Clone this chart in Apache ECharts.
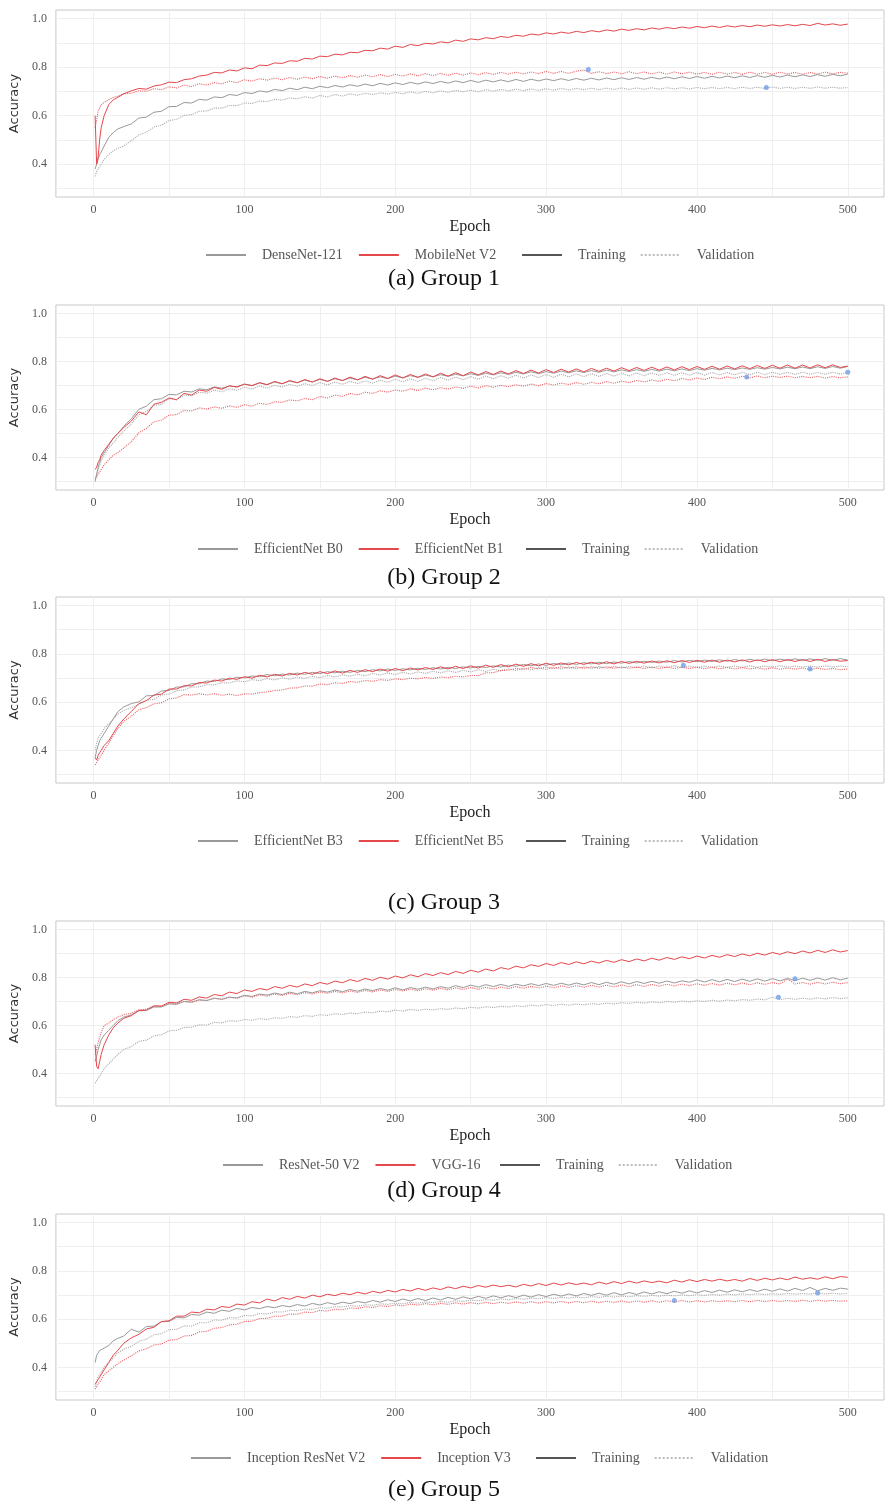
<!DOCTYPE html>
<html><head><meta charset="utf-8">
<script src="https://cdn.jsdelivr.net/npm/echarts@6/dist/echarts.min.js"></script>
<style>html,body{margin:0;padding:0;background:#fff}#c{width:888px;height:1504px}</style>
</head><body><div id="c"></div>
<script>
const EPOCHS = [1,2,3,4,5,7,10,13,16,20,
25,30,35,40,45,50,55,60,65,70,
75,80,85,90,95,100,105,110,115,120,
125,130,135,140,145,150,155,160,165,170,
175,180,185,190,195,200,205,210,215,220,
225,230,235,240,245,250,255,260,265,270,
275,280,285,290,295,300,305,310,315,320,
325,330,335,340,345,350,355,360,365,370,
375,380,385,390,395,400,405,410,415,420,
425,430,435,440,445,450,455,460,465,470,
475,480,485,490,495,500];

const X_LABELS = [0,100,200,300,400,500];
const Y_LABELS = [0.4,0.6,0.8,1.0];
const CAPTIONS = ['(a) Group 1','(b) Group 2','(c) Group 3','(d) Group 4','(e) Group 5'];
const MODELS = [['DenseNet-121','MobileNet V2'],['EfficientNet B0','EfficientNet B1'],['EfficientNet B3','EfficientNet B5'],['ResNet-50 V2','VGG-16'],['Inception ResNet V2','Inception V3']];

// ---- Group 1 ----
const g1_m1_train = [0.38,0.40,0.42,0.44,0.45,0.475,0.51,0.53,0.545,0.555,
0.566,0.590,0.594,0.614,0.618,0.637,0.638,0.654,0.652,0.667,
0.664,0.677,0.674,0.687,0.683,0.695,0.691,0.702,0.697,0.708,
0.703,0.713,0.707,0.717,0.711,0.721,0.715,0.724,0.718,0.727,
0.721,0.730,0.723,0.733,0.726,0.735,0.728,0.737,0.730,0.739,
0.732,0.741,0.734,0.743,0.736,0.745,0.737,0.746,0.739,0.747,
0.740,0.749,0.741,0.750,0.743,0.751,0.744,0.752,0.745,0.753,
0.746,0.754,0.747,0.755,0.748,0.756,0.749,0.757,0.750,0.758,
0.751,0.759,0.752,0.760,0.753,0.761,0.754,0.762,0.755,0.763,
0.756,0.764,0.757,0.765,0.758,0.766,0.759,0.767,0.760,0.768,
0.761,0.769,0.762,0.770,0.764,0.771];
const g1_m1_val = [0.35,0.37,0.38,0.39,0.40,0.42,0.44,0.455,0.465,0.475,
0.497,0.521,0.532,0.553,0.561,0.580,0.585,0.601,0.604,0.618,
0.619,0.631,0.631,0.642,0.641,0.652,0.650,0.660,0.658,0.667,
0.664,0.673,0.669,0.678,0.672,0.683,0.677,0.687,0.681,0.690,
0.684,0.692,0.687,0.694,0.689,0.696,0.690,0.698,0.692,0.700,
0.694,0.702,0.696,0.704,0.698,0.705,0.699,0.707,0.701,0.708,
0.702,0.709,0.703,0.710,0.704,0.711,0.705,0.712,0.706,0.712,
0.707,0.713,0.707,0.713,0.708,0.714,0.708,0.714,0.709,0.715,
0.709,0.715,0.710,0.715,0.710,0.716,0.711,0.716,0.711,0.716,
0.711,0.717,0.712,0.717,0.712,0.718,0.712,0.717,0.712,0.717,
0.712,0.718,0.713,0.717,0.713,0.716];
const g1_m2_train = [0.60,0.40,0.43,0.50,0.55,0.60,0.645,0.665,0.675,0.69,
0.702,0.712,0.709,0.722,0.727,0.738,0.736,0.748,0.752,0.763,
0.767,0.778,0.776,0.788,0.784,0.797,0.793,0.808,0.806,0.817,
0.815,0.826,0.824,0.836,0.833,0.845,0.843,0.853,0.850,0.861,
0.859,0.869,0.867,0.878,0.874,0.886,0.881,0.893,0.888,0.898,
0.895,0.904,0.900,0.911,0.906,0.916,0.912,0.921,0.917,0.926,
0.922,0.931,0.927,0.936,0.932,0.941,0.936,0.944,0.939,0.947,
0.942,0.950,0.945,0.953,0.948,0.956,0.951,0.958,0.953,0.961,
0.956,0.963,0.958,0.965,0.960,0.967,0.962,0.969,0.963,0.970,
0.965,0.971,0.966,0.973,0.968,0.974,0.969,0.975,0.970,0.976,
0.971,0.980,0.973,0.978,0.972,0.977];
const g1_m2_val = [0.55,0.58,0.62,0.63,0.645,0.655,0.665,0.675,0.68,0.69,
0.692,0.703,0.700,0.711,0.707,0.719,0.714,0.726,0.720,0.731,
0.726,0.736,0.731,0.742,0.736,0.748,0.742,0.752,0.746,0.755,
0.748,0.757,0.750,0.759,0.752,0.761,0.754,0.763,0.756,0.765,
0.758,0.767,0.760,0.769,0.761,0.770,0.763,0.772,0.764,0.773,
0.765,0.774,0.766,0.775,0.767,0.776,0.769,0.777,0.770,0.778,
0.771,0.779,0.772,0.780,0.773,0.782,0.774,0.782,0.774,0.783,
0.788,0.774,0.781,0.773,0.780,0.772,0.781,0.773,0.780,0.772,
0.779,0.771,0.780,0.772,0.779,0.771,0.778,0.770,0.779,0.771,
0.778,0.770,0.779,0.771,0.778,0.770,0.779,0.771,0.778,0.770,
0.778,0.771,0.779,0.772,0.778,0.775];
const g1_best = [[328,0.790],[446,0.716]];

// ---- Group 2 ----
const g2_m1_train = [0.30,0.33,0.36,0.38,0.40,0.42,0.45,0.48,0.50,0.53,
0.562,0.601,0.614,0.641,0.645,0.663,0.661,0.676,0.673,0.686,
0.682,0.694,0.689,0.697,0.695,0.705,0.700,0.710,0.704,0.714,
0.708,0.718,0.712,0.722,0.715,0.725,0.718,0.728,0.721,0.731,
0.724,0.734,0.727,0.736,0.729,0.739,0.732,0.741,0.734,0.743,
0.736,0.745,0.738,0.747,0.740,0.749,0.742,0.751,0.744,0.753,
0.746,0.755,0.748,0.757,0.749,0.758,0.751,0.760,0.753,0.761,
0.754,0.762,0.755,0.764,0.757,0.765,0.758,0.766,0.759,0.767,
0.760,0.768,0.761,0.769,0.762,0.770,0.764,0.771,0.765,0.772,
0.766,0.773,0.767,0.774,0.768,0.775,0.769,0.776,0.770,0.777,
0.770,0.778,0.771,0.779,0.772,0.779];
const g2_m1_val = [0.31,0.33,0.35,0.37,0.385,0.41,0.44,0.46,0.485,0.51,
0.540,0.578,0.592,0.616,0.622,0.645,0.641,0.660,0.657,0.672,
0.668,0.681,0.674,0.687,0.680,0.693,0.685,0.698,0.689,0.701,
0.694,0.705,0.697,0.708,0.700,0.712,0.702,0.714,0.705,0.717,
0.708,0.719,0.710,0.722,0.713,0.726,0.715,0.728,0.717,0.730,
0.720,0.733,0.722,0.735,0.724,0.737,0.726,0.739,0.728,0.741,
0.730,0.743,0.731,0.744,0.733,0.746,0.734,0.747,0.736,0.748,
0.737,0.749,0.738,0.750,0.739,0.751,0.740,0.752,0.741,0.752,
0.742,0.753,0.742,0.753,0.743,0.754,0.743,0.754,0.744,0.754,
0.744,0.755,0.745,0.755,0.745,0.755,0.746,0.755,0.746,0.755,
0.747,0.754,0.747,0.755,0.747,0.755];
const g2_m2_train = [0.35,0.36,0.38,0.39,0.41,0.43,0.455,0.48,0.50,0.525,
0.552,0.590,0.578,0.622,0.630,0.648,0.641,0.667,0.660,0.681,
0.676,0.692,0.684,0.699,0.693,0.706,0.699,0.712,0.703,0.717,
0.707,0.721,0.711,0.725,0.714,0.728,0.717,0.731,0.720,0.735,
0.723,0.738,0.726,0.741,0.729,0.744,0.731,0.746,0.734,0.748,
0.736,0.751,0.739,0.753,0.741,0.756,0.744,0.758,0.746,0.760,
0.748,0.762,0.750,0.764,0.752,0.766,0.754,0.768,0.756,0.769,
0.757,0.771,0.759,0.772,0.760,0.774,0.762,0.775,0.763,0.776,
0.764,0.777,0.765,0.778,0.766,0.779,0.767,0.780,0.768,0.781,
0.769,0.782,0.770,0.783,0.771,0.784,0.772,0.785,0.772,0.785,
0.773,0.786,0.774,0.786,0.775,0.781];
const g2_m2_val = [0.31,0.32,0.33,0.34,0.35,0.37,0.39,0.41,0.42,0.44,
0.466,0.503,0.521,0.549,0.556,0.576,0.579,0.596,0.594,0.607,
0.602,0.611,0.605,0.615,0.609,0.620,0.614,0.626,0.621,0.632,
0.630,0.640,0.636,0.646,0.641,0.654,0.648,0.660,0.655,0.667,
0.661,0.672,0.667,0.678,0.672,0.681,0.676,0.686,0.679,0.689,
0.682,0.691,0.685,0.694,0.688,0.697,0.690,0.699,0.693,0.701,
0.695,0.703,0.697,0.706,0.699,0.708,0.702,0.710,0.704,0.712,
0.705,0.713,0.707,0.716,0.709,0.718,0.712,0.721,0.715,0.723,
0.717,0.726,0.720,0.729,0.723,0.731,0.725,0.734,0.728,0.736,
0.730,0.738,0.731,0.740,0.732,0.739,0.733,0.739,0.732,0.738,
0.732,0.738,0.731,0.737,0.732,0.736];
const g2_best = [[433,0.735],[500,0.755]];

// ---- Group 3 ----
const g3_m1_train = [0.37,0.40,0.42,0.44,0.45,0.47,0.50,0.53,0.56,0.58,
0.594,0.601,0.626,0.627,0.646,0.648,0.662,0.663,0.676,0.676,
0.687,0.685,0.696,0.693,0.703,0.700,0.708,0.705,0.714,0.709,
0.716,0.712,0.720,0.715,0.723,0.718,0.726,0.721,0.728,0.723,
0.731,0.726,0.734,0.729,0.737,0.731,0.738,0.733,0.740,0.735,
0.742,0.737,0.744,0.739,0.746,0.741,0.748,0.743,0.750,0.745,
0.753,0.748,0.756,0.750,0.758,0.752,0.760,0.754,0.762,0.756,
0.763,0.758,0.765,0.759,0.766,0.761,0.768,0.762,0.769,0.764,
0.770,0.765,0.772,0.766,0.773,0.767,0.774,0.768,0.775,0.769,
0.776,0.770,0.777,0.771,0.778,0.771,0.778,0.772,0.779,0.772,
0.779,0.773,0.780,0.773,0.780,0.774];
const g3_m1_val = [0.40,0.43,0.45,0.46,0.47,0.49,0.51,0.53,0.55,0.565,
0.577,0.590,0.608,0.611,0.629,0.633,0.647,0.650,0.662,0.663,
0.672,0.671,0.680,0.679,0.688,0.684,0.693,0.689,0.697,0.692,
0.700,0.695,0.703,0.698,0.707,0.701,0.710,0.704,0.713,0.707,
0.715,0.709,0.718,0.712,0.721,0.714,0.723,0.716,0.725,0.719,
0.727,0.721,0.729,0.723,0.731,0.725,0.734,0.727,0.736,0.729,
0.738,0.731,0.740,0.733,0.742,0.735,0.744,0.737,0.745,0.738,
0.746,0.739,0.747,0.740,0.748,0.741,0.748,0.742,0.749,0.742,
0.749,0.743,0.751,0.743,0.749,0.744,0.749,0.744,0.749,0.744,
0.749,0.744,0.750,0.744,0.749,0.745,0.750,0.745,0.749,0.745,
0.749,0.745,0.750,0.745,0.749,0.746];
const g3_m2_train = [0.37,0.36,0.38,0.39,0.40,0.42,0.44,0.47,0.50,0.53,
0.561,0.594,0.606,0.629,0.633,0.654,0.654,0.668,0.667,0.681,
0.679,0.691,0.687,0.699,0.694,0.705,0.699,0.711,0.704,0.715,
0.708,0.719,0.712,0.723,0.715,0.726,0.718,0.729,0.720,0.731,
0.723,0.734,0.726,0.737,0.728,0.739,0.730,0.741,0.733,0.743,
0.735,0.746,0.737,0.748,0.739,0.750,0.741,0.753,0.744,0.755,
0.746,0.757,0.748,0.759,0.750,0.761,0.752,0.762,0.754,0.764,
0.756,0.765,0.757,0.767,0.758,0.768,0.760,0.769,0.761,0.770,
0.762,0.771,0.763,0.772,0.764,0.773,0.765,0.774,0.765,0.774,
0.766,0.775,0.766,0.775,0.767,0.776,0.767,0.776,0.768,0.776,
0.768,0.777,0.768,0.776,0.769,0.772];
const g3_m2_val = [0.34,0.35,0.36,0.37,0.38,0.40,0.43,0.46,0.49,0.52,
0.542,0.568,0.577,0.593,0.597,0.613,0.617,0.631,0.629,0.635,
0.629,0.635,0.628,0.633,0.627,0.634,0.633,0.639,0.642,0.648,
0.650,0.658,0.659,0.667,0.666,0.675,0.672,0.680,0.677,0.685,
0.682,0.689,0.686,0.693,0.690,0.696,0.693,0.699,0.696,0.702,
0.698,0.704,0.701,0.707,0.704,0.710,0.710,0.721,0.722,0.731,
0.732,0.739,0.736,0.743,0.738,0.745,0.739,0.746,0.740,0.746,
0.740,0.746,0.740,0.746,0.740,0.745,0.740,0.745,0.739,0.745,
0.739,0.745,0.739,0.744,0.739,0.744,0.738,0.744,0.738,0.743,
0.737,0.743,0.737,0.742,0.736,0.742,0.736,0.741,0.736,0.741,
0.735,0.740,0.735,0.739,0.734,0.737];
const g3_best = [[391,0.752],[475,0.737]];

// ---- Group 4 ----
const g4_m1_train = [0.45,0.47,0.50,0.52,0.54,0.56,0.58,0.60,0.62,0.635,
0.644,0.661,0.663,0.677,0.677,0.690,0.688,0.700,0.697,0.707,
0.704,0.714,0.709,0.718,0.715,0.726,0.721,0.731,0.727,0.735,
0.729,0.739,0.732,0.742,0.736,0.745,0.739,0.748,0.741,0.750,
0.743,0.752,0.745,0.754,0.747,0.757,0.748,0.758,0.751,0.760,
0.752,0.762,0.755,0.766,0.758,0.768,0.760,0.770,0.762,0.771,
0.763,0.772,0.765,0.774,0.766,0.775,0.767,0.776,0.768,0.777,
0.769,0.779,0.770,0.780,0.772,0.782,0.773,0.783,0.775,0.784,
0.776,0.785,0.777,0.786,0.780,0.790,0.781,0.791,0.782,0.792,
0.783,0.793,0.784,0.794,0.785,0.795,0.786,0.796,0.787,0.797,
0.788,0.798,0.789,0.799,0.790,0.797];
const g4_m1_val = [0.36,0.37,0.38,0.39,0.40,0.42,0.44,0.46,0.48,0.50,
0.512,0.534,0.539,0.557,0.562,0.578,0.580,0.592,0.593,0.603,
0.602,0.613,0.611,0.620,0.618,0.625,0.622,0.629,0.625,0.632,
0.630,0.637,0.634,0.641,0.638,0.645,0.642,0.649,0.646,0.652,
0.649,0.656,0.653,0.660,0.657,0.664,0.660,0.667,0.663,0.668,
0.665,0.670,0.667,0.673,0.670,0.676,0.672,0.678,0.675,0.680,
0.677,0.682,0.679,0.685,0.681,0.687,0.683,0.689,0.684,0.690,
0.686,0.691,0.688,0.693,0.690,0.695,0.692,0.697,0.693,0.698,
0.695,0.700,0.697,0.702,0.698,0.703,0.700,0.705,0.701,0.706,
0.703,0.708,0.705,0.710,0.707,0.718,0.708,0.713,0.709,0.714,
0.710,0.715,0.711,0.716,0.712,0.715];
const g4_m2_train = [0.52,0.43,0.42,0.45,0.48,0.52,0.56,0.59,0.61,0.63,
0.641,0.663,0.664,0.682,0.681,0.697,0.694,0.709,0.705,0.719,
0.714,0.729,0.724,0.739,0.733,0.748,0.742,0.754,0.748,0.762,
0.755,0.767,0.760,0.773,0.766,0.779,0.772,0.785,0.778,0.791,
0.783,0.796,0.788,0.801,0.793,0.806,0.798,0.811,0.803,0.816,
0.808,0.820,0.812,0.825,0.817,0.830,0.822,0.835,0.827,0.841,
0.834,0.847,0.840,0.853,0.846,0.858,0.850,0.862,0.854,0.865,
0.857,0.868,0.860,0.871,0.863,0.874,0.866,0.877,0.869,0.880,
0.872,0.883,0.875,0.886,0.878,0.889,0.881,0.892,0.884,0.895,
0.887,0.898,0.890,0.901,0.893,0.904,0.896,0.907,0.899,0.910,
0.902,0.913,0.904,0.915,0.906,0.912];
const g4_m2_val = [0.48,0.50,0.53,0.55,0.57,0.60,0.61,0.625,0.635,0.645,
0.651,0.665,0.668,0.679,0.680,0.692,0.690,0.700,0.697,0.706,
0.704,0.713,0.709,0.718,0.713,0.724,0.718,0.728,0.722,0.731,
0.725,0.734,0.728,0.737,0.731,0.740,0.734,0.742,0.736,0.744,
0.738,0.746,0.740,0.748,0.742,0.750,0.744,0.752,0.745,0.753,
0.747,0.755,0.748,0.757,0.750,0.758,0.751,0.759,0.752,0.760,
0.754,0.762,0.755,0.763,0.756,0.764,0.757,0.765,0.758,0.766,
0.759,0.767,0.760,0.768,0.761,0.769,0.762,0.770,0.763,0.771,
0.764,0.772,0.765,0.773,0.766,0.774,0.767,0.775,0.768,0.776,
0.769,0.777,0.770,0.778,0.771,0.779,0.772,0.794,0.773,0.779,
0.772,0.780,0.773,0.780,0.774,0.778];
const g4_best = [[465,0.795],[454,0.718]];

// ---- Group 5 ----
const g5_m1_train = [0.42,0.45,0.46,0.47,0.47,0.48,0.49,0.51,0.52,0.53,
0.558,0.546,0.569,0.571,0.589,0.590,0.607,0.605,0.619,0.616,
0.629,0.624,0.637,0.632,0.644,0.638,0.648,0.643,0.652,0.647,
0.656,0.651,0.660,0.654,0.665,0.658,0.668,0.661,0.670,0.664,
0.673,0.667,0.677,0.670,0.680,0.673,0.683,0.675,0.685,0.677,
0.687,0.679,0.690,0.682,0.692,0.684,0.694,0.686,0.696,0.688,
0.697,0.689,0.699,0.691,0.701,0.693,0.703,0.695,0.704,0.696,
0.706,0.698,0.707,0.699,0.709,0.700,0.710,0.702,0.712,0.704,
0.713,0.705,0.715,0.707,0.717,0.708,0.718,0.710,0.720,0.711,
0.721,0.713,0.722,0.714,0.724,0.715,0.725,0.716,0.727,0.718,
0.731,0.717,0.727,0.719,0.728,0.724];
const g5_m1_val = [0.32,0.34,0.36,0.37,0.38,0.40,0.42,0.44,0.46,0.475,
0.487,0.508,0.517,0.535,0.540,0.556,0.558,0.572,0.571,0.585,
0.585,0.596,0.595,0.606,0.604,0.615,0.613,0.623,0.621,0.630,
0.629,0.636,0.635,0.641,0.640,0.647,0.645,0.651,0.650,0.656,
0.653,0.659,0.657,0.663,0.661,0.666,0.663,0.669,0.666,0.671,
0.668,0.673,0.670,0.676,0.673,0.678,0.676,0.681,0.678,0.683,
0.680,0.685,0.682,0.687,0.684,0.689,0.686,0.690,0.687,0.692,
0.688,0.693,0.690,0.694,0.691,0.695,0.692,0.697,0.694,0.698,
0.695,0.699,0.696,0.700,0.697,0.701,0.698,0.702,0.699,0.703,
0.700,0.704,0.701,0.705,0.701,0.705,0.702,0.706,0.703,0.706,
0.703,0.708,0.704,0.707,0.704,0.706];
const g5_m2_train = [0.33,0.34,0.35,0.36,0.37,0.39,0.42,0.45,0.47,0.50,
0.522,0.537,0.559,0.566,0.590,0.593,0.612,0.612,0.629,0.626,
0.641,0.638,0.652,0.648,0.662,0.658,0.672,0.667,0.683,0.675,
0.689,0.682,0.694,0.687,0.699,0.692,0.703,0.697,0.707,0.701,
0.711,0.704,0.715,0.708,0.719,0.712,0.723,0.716,0.727,0.719,
0.729,0.722,0.733,0.726,0.736,0.729,0.739,0.732,0.741,0.734,
0.740,0.733,0.744,0.737,0.747,0.739,0.749,0.741,0.750,0.743,
0.749,0.742,0.753,0.745,0.755,0.747,0.757,0.749,0.758,0.751,
0.757,0.750,0.761,0.753,0.763,0.755,0.764,0.757,0.765,0.758,
0.764,0.757,0.768,0.760,0.769,0.762,0.770,0.763,0.774,0.765,
0.771,0.765,0.775,0.767,0.776,0.773];
const g5_m2_val = [0.31,0.32,0.33,0.34,0.35,0.37,0.385,0.40,0.415,0.43,
0.448,0.468,0.477,0.493,0.497,0.513,0.515,0.530,0.532,0.547,
0.549,0.562,0.565,0.576,0.579,0.590,0.591,0.602,0.603,0.612,
0.612,0.621,0.620,0.629,0.627,0.636,0.633,0.641,0.638,0.646,
0.644,0.651,0.648,0.655,0.652,0.659,0.655,0.662,0.658,0.664,
0.659,0.665,0.661,0.667,0.662,0.668,0.663,0.669,0.664,0.670,
0.665,0.671,0.666,0.672,0.666,0.672,0.667,0.673,0.667,0.673,
0.668,0.674,0.668,0.674,0.669,0.675,0.669,0.675,0.670,0.676,
0.670,0.676,0.671,0.677,0.671,0.676,0.671,0.676,0.672,0.676,
0.672,0.677,0.672,0.677,0.673,0.677,0.673,0.677,0.673,0.678,
0.673,0.678,0.674,0.677,0.674,0.676];
const g5_best = [[385,0.677],[480,0.708]];

const GROUPS = [
  {m1t:g1_m1_train,m1v:g1_m1_val,m2t:g1_m2_train,m2v:g1_m2_val,best:g1_best},
  {m1t:g2_m1_train,m1v:g2_m1_val,m2t:g2_m2_train,m2v:g2_m2_val,best:g2_best},
  {m1t:g3_m1_train,m1v:g3_m1_val,m2t:g3_m2_train,m2v:g3_m2_val,best:g3_best},
  {m1t:g4_m1_train,m1v:g4_m1_val,m2t:g4_m2_train,m2v:g4_m2_val,best:g4_best},
  {m1t:g5_m1_train,m1v:g5_m1_val,m2t:g5_m2_train,m2v:g5_m2_val,best:g5_best}
];

// layout
const TOPS = [10,305,597,921,1214];
const HEIGHTS = [187,185,186,185,186];
const CAP_C = [276,575,900,1188,1487];
const LEG_C = [252,546,838,1162,1455];
const LEG_A_X = [200,192,192,217,185];
const LEG_B_X = [516,520,520,494,530];

const GREY = '#999999', RED = '#e4474c';
const SERIF = '"Liberation Serif","DejaVu Serif",serif';

const grids=[],xAxes=[],yAxes=[],series=[],legends=[],titles=[];
const pair = arr => EPOCHS.map((e,i)=>[e,arr[i]]);
const legText = {fontFamily:SERIF,fontSize:14,color:'#555',padding:[0,0,0,11]};

GROUPS.forEach((g,k)=>{
  grids.push({left:55,right:4,top:TOPS[k],height:HEIGHTS[k],show:true,borderColor:'#c8c8c8',borderWidth:1,backgroundColor:'#fff'});
  xAxes.push({type:'value',gridIndex:k,min:-25,max:524,
    name:'Epoch',nameLocation:'middle',nameGap:22,
    nameTextStyle:{fontFamily:SERIF,fontSize:16,color:'#222'},
    axisLine:{show:false},
    axisTick:{show:false,customValues:[0,50,100,150,200,250,300,350,400,450,500]},
    axisLabel:{customValues:X_LABELS,margin:7,fontFamily:SERIF,fontSize:12,color:'#555'},
    splitLine:{show:true,lineStyle:{color:'#efefef',width:1}}
  });
  yAxes.push({type:'value',gridIndex:k,min:0.265,max:1.035,
    name:'Accuracy',nameLocation:'middle',nameGap:32,
    nameTextStyle:{fontFamily:'"DejaVu Sans",sans-serif',fontSize:13,color:'#333'},
    axisLine:{show:false},
    axisTick:{show:false,customValues:[0.3,0.4,0.5,0.6,0.7,0.8,0.9,1.0]},
    axisLabel:{customValues:Y_LABELS,margin:9,fontFamily:SERIF,fontSize:12,color:'#555',formatter:v=>v.toFixed(1)},
    splitLine:{show:true,lineStyle:{color:'#efefef',width:1}}
  });
  const [n1,n2]=MODELS[k];
  const mk=(name,data,color,type,z)=>({type:'line',name,xAxisIndex:k,yAxisIndex:k,data:pair(data),
    showSymbol:false,symbol:'none',silent:true,z,
    lineStyle:{color,width:type==='solid'?1:1.1,type,opacity:type==='solid'?1:0.85},itemStyle:{color}});
  series.push(mk(n1,g.m1t,GREY,'solid',3));
  series.push(mk(n2,g.m2t,RED,'solid',4));
  series.push(mk(n1,g.m1v,GREY,'dotted',2));
  series.push(mk(n2,g.m2v,RED,'dotted',2));
  series.push({type:'scatter',name:'best'+k,xAxisIndex:k,yAxisIndex:k,data:g.best,symbolSize:5,z:6,
    itemStyle:{color:'#6d9ee6'},silent:true});
  legends.push({data:[n1,n2],left:LEG_A_X[k],top:LEG_C[k]-9,itemWidth:40,itemHeight:10,itemGap:15,
    textStyle:legText,lineStyle:{width:2},itemStyle:{opacity:0},selectedMode:false});
  legends.push({data:['Training','Validation'],left:LEG_B_X[k],top:LEG_C[k]-9,itemWidth:40,itemHeight:10,itemGap:14,
    textStyle:legText,lineStyle:{width:2},itemStyle:{opacity:0},selectedMode:false});
  titles.push({text:CAPTIONS[k],left:'center',top:CAP_C[k]-14,textStyle:{fontFamily:SERIF,fontSize:24,fontWeight:'normal',color:'#111'}});
});
series.push({type:'line',name:'Training',xAxisIndex:0,yAxisIndex:0,data:[],symbol:'none',lineStyle:{color:'#555',width:1,type:'solid'},itemStyle:{color:'#555'}});
series.push({type:'line',name:'Validation',xAxisIndex:0,yAxisIndex:0,data:[],symbol:'none',lineStyle:{color:'#bbb',width:1,type:'dotted'},itemStyle:{color:'#bbb'}});

const chart = echarts.init(document.getElementById('c'),null,{renderer:'canvas'});
chart.setOption({animation:false,backgroundColor:'#fff',title:titles,grid:grids,xAxis:xAxes,yAxis:yAxes,legend:legends,series});
</script></body></html>
